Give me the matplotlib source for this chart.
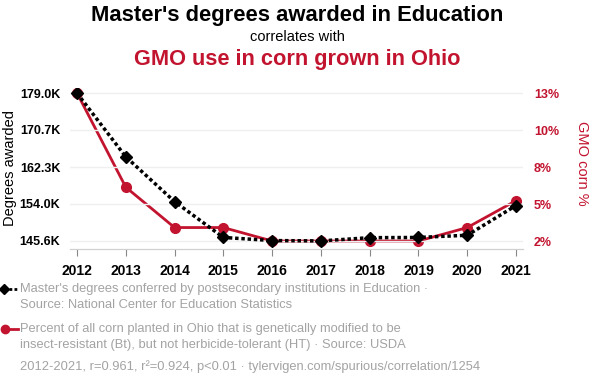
import numpy as np
import matplotlib
matplotlib.use("Agg")
import matplotlib.pyplot as plt
from matplotlib.lines import Line2D

plt.rcParams['font.family'] = ['Liberation Sans', 'DejaVu Sans']

# datos
years = [2012, 2013, 2014, 2015, 2016, 2017, 2018, 2019, 2020, 2021]
degrees = [178970, 164600, 154500, 146400, 145700, 145620, 146350, 146400, 146900, 153600]
gmo_pct = [13, 6, 3, 3, 2, 2, 2, 2, 3, 5]

left_ticks = [145.6e3, 154.0e3, 162.3e3, 170.7e3, 179.0e3]
left_labels = ["145.6K", "154.0K", "162.3K", "170.7K", "179.0K"]
right_ticks = [2, 4.75, 7.5, 10.25, 13]
right_labels = ["2%", "5%", "8%", "10%", "13%"]

RED = '#c2132f'
GRAY = '#a3a3a3'
W, H = 594, 388

fig = plt.figure(figsize=(W / 100, H / 100), dpi=100)
# ejes en coordenadas de pixel
AX_L, AX_R = 70, 523
ax1 = fig.add_axes([AX_L / W, (H - 249) / H, (AX_R - AX_L) / W, (249 - 88) / H])
ax2 = ax1.twinx()
ax1.set_zorder(ax2.get_zorder() + 1)
ax1.patch.set_visible(False)

ax2.plot(years, gmo_pct, color=RED, lw=2, marker='o', ms=7, zorder=3)
ax1.plot(years, degrees, color='black', lw=2.5, ls=(0, (1, 0.8)), marker='D', ms=6, zorder=4)

px_y = 33.4e3 / 148
ax1.set_ylim(145.6e3 - 8 * px_y, 179.0e3 + 5 * px_y)
px_r = 11 / 148
ax2.set_ylim(2 - 8 * px_r, 13 + 5 * px_r)
px_x = 9 / 439
ax1.set_xlim(2012 - 7 * px_x, 2021 + 7 * px_x)

ax1.set_yticks(left_ticks)
ax1.set_yticklabels(left_labels)
ax2.set_yticks(right_ticks)
ax2.set_yticklabels(right_labels)
ax1.set_xticks(years)
ax1.set_xticklabels([str(y) for y in years])

ax1.grid(axis='y', color='#efefef', lw=1)
for a in (ax1, ax2):
    for s in ('top', 'left', 'right'):
        a.spines[s].set_visible(False)
    a.spines['bottom'].set_color('#d0d0d0')
ax1.tick_params(axis='y', length=0, pad=7, labelsize=9)
for t in ax1.get_yticklabels():
    t.set_fontweight('bold')
ax2.tick_params(axis='y', length=0, pad=8, labelsize=9, labelcolor=RED)
for t in ax2.get_yticklabels():
    t.set_fontweight('bold')
ax1.tick_params(axis='x', length=5, color='#888888', pad=6, labelsize=10)
for t in ax1.get_xticklabels():
    t.set_fontweight('bold')

aw = AX_R - AX_L
ax1.set_ylabel('Degrees awarded', fontsize=10.5, va='center')
ax1.yaxis.set_label_coords((10 - AX_L) / aw, 0.5)
ax2.set_ylabel('GMO corn %', fontsize=10.5, color=RED, rotation=270, va='center')
ax2.yaxis.set_label_coords((582 - AX_L) / aw, 0.53)

# titulos
fig.text(297 / W, 1 - 15 / H, "Master's degrees awarded in Education", ha='center', va='center',
         fontsize=15.8, fontweight='bold')
fig.text(297 / W, 1 - 37 / H, "correlates with", ha='center', va='center', fontsize=10.5)
fig.text(297 / W, 1 - 59 / H, "GMO use in corn grown in Ohio", ha='center', va='center',
         fontsize=15.7, fontweight='bold', color=RED)

# leyenda a mano
def ypos(p):
    return 1 - p / H

fig.add_artist(Line2D([4 / W, 18 / W], [ypos(289), ypos(289)], color='black', lw=2,
                      ls=(0, (1, 0.8))))
fig.add_artist(Line2D([4 / W], [ypos(289)], color='black', marker='D', ms=5))
fig.add_artist(Line2D([4 / W, 18 / W], [ypos(329), ypos(329)], color=RED, lw=2))
fig.add_artist(Line2D([5 / W], [ypos(329)], color=RED, marker='o', ms=6))

fs = 9.3
fig.text(20 / W, ypos(289), "Master's degrees conferred by postsecondary institutions in Education ·",
         va='center', fontsize=fs, color=GRAY)
fig.text(20 / W, ypos(305), "Source: National Center for Education Statistics",
         va='center', fontsize=fs, color=GRAY)
fig.text(20 / W, ypos(329), "Percent of all corn planted in Ohio that is genetically modified to be",
         va='center', fontsize=fs, color=GRAY)
fig.text(20 / W, ypos(345), "insect-resistant (Bt), but not herbicide-tolerant (HT) · Source: USDA",
         va='center', fontsize=fs, color=GRAY)
fig.text(20 / W, ypos(367), "2012-2021, r=0.961, r²=0.924, p<0.01 · tylervigen.com/spurious/correlation/1254",
         va='center', fontsize=fs, color=GRAY)

fig.savefig('out.png', dpi=100)
